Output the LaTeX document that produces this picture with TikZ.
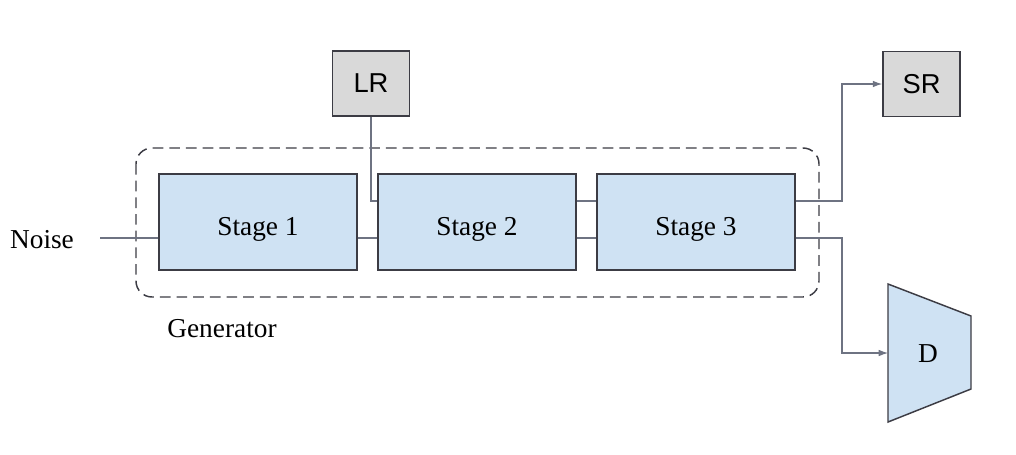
\documentclass[tikz,border=0pt]{standalone}
\usepackage{fontspec}
\setmainfont{Liberation Serif}
\setsansfont{Liberation Sans}
\usetikzlibrary{arrows.meta,calc}
\definecolor{stagefill}{HTML}{CFE2F3}
\definecolor{grayfill}{HTML}{D9D9D9}
\definecolor{edgecol}{HTML}{3C3C44}
\definecolor{linkcol}{HTML}{6E7382}
\tikzset{
  stagebox/.style={draw=edgecol, line width=1.1pt, fill=stagefill, inner sep=0pt,
    minimum width=148.5pt, minimum height=72pt, text height=20pt, text depth=0pt,
    font=\fontsize{20.5}{24}\selectfont},
  imgbox/.style={draw=edgecol, line width=1.1pt, fill=grayfill, inner sep=0pt,
    minimum width=58pt, minimum height=48.5pt, font=\sffamily\fontsize{20.5}{24}\selectfont},
  lbl/.style={inner sep=0pt, font=\fontsize{20.5}{24}\selectfont},
  link/.style={draw=linkcol, line width=0.8pt},
  arr/.style={link, -{Latex[length=7pt,width=5pt]}},
}
\begin{document}
\begin{tikzpicture}[x=0.75pt,y=-0.75pt]
\useasboundingbox (0,0) rectangle (1016,454);
% generator group
\draw[draw=edgecol, line width=1.1pt, dash pattern=on 8pt off 4.5pt, rounded corners=12pt]
  (136,148) rectangle (819,297);
\node[lbl] (gen) at (222,329) {Generator};
% stages
\node[stagebox] (s1) at (258,222) {Stage 1};
\node[stagebox] (s2) at (477,222) {Stage 2};
\node[stagebox] (s3) at (696,222) {Stage 3};
% images
\node[imgbox] (lr) at (371,83.5) {LR};
\node[imgbox] (sr) at (921.5,84) {SR};
% noise
\node[lbl] (noise) at (42,240) {Noise};
% discriminator
\draw[draw=edgecol, line width=1.1pt, fill=stagefill]
  (888,284) -- (971,316) -- (971,389) -- (888,422) -- cycle;
\node[lbl] (d) at (928,354) {D};
% helper coordinates
\coordinate (nstart) at (100,238);
\coordinate (up) at (0,201);
\coordinate (lo) at (0,238);
\coordinate (bx) at (842,0);
\coordinate (dleft) at (888,353);
% connectors
\draw[link] (nstart) -- (s1.west |- nstart);
\draw[link] (s1.east |- lo) -- (s2.west |- lo);
\draw[link] (lr.south) |- (s2.west |- up);
\draw[link] (s2.east |- up) -- (s3.west |- up);
\draw[link] (s2.east |- lo) -- (s3.west |- lo);
\draw[arr] (s3.east |- up) -| (bx |- up) |- (sr.west);
\draw[arr] (s3.east |- lo) -| (bx |- lo) |- (dleft);
\end{tikzpicture}
\end{document}
